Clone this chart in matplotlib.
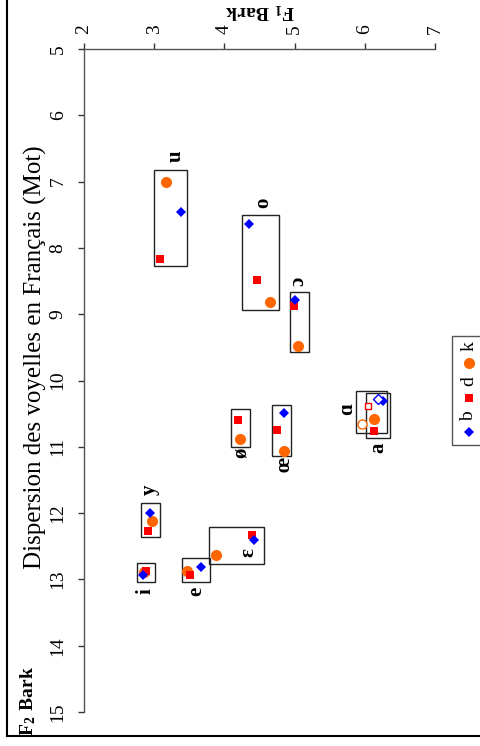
import matplotlib
matplotlib.use("Agg")
import matplotlib.pyplot as plt
from matplotlib.patches import Rectangle
from matplotlib.lines import Line2D
import numpy as np

plt.rcParams['font.family'] = ['Liberation Serif', 'DejaVu Serif']
plt.rcParams['mathtext.fontset'] = 'custom'
plt.rcParams['mathtext.rm'] = 'Liberation Serif'
plt.rcParams['mathtext.bf'] = 'Liberation Serif:bold'

title = "Dispersion des voyelles en Français (Mot)"
speakers = ["b", "d", "k"]
vowels = ["i", "y", "e", "ɛ", "ø", "œ", "a", "ɑ", "ɔ", "o", "u"]
open_vowels = ["ɑ"]

b_F1 = [2.84, 2.94, 3.67, 4.42, np.nan, 4.85, 6.26, 6.19, 5.01, 4.35, 3.38]
b_F2 = [12.93, 12.00, 12.81, 12.41, np.nan, 10.49, 10.31, 10.28, 8.79, 7.64, 7.46]
d_F1 = [2.88, 2.91, 3.51, 4.39, 4.19, 4.75, 6.13, 6.05, 4.99, 4.46, 3.08]
d_F2 = [12.87, 12.27, 12.93, 12.33, 10.60, 10.75, 10.76, 10.38, 8.88, 8.48, 8.17]
k_F1 = [2.85, 2.97, 3.47, 3.88, 4.22, 4.85, 6.13, 5.96, 5.05, 4.65, 3.17]
k_F2 = [12.89, 12.12, 12.87, 12.63, 10.88, 11.06, 10.58, 10.66, 9.48, 8.82, 7.00]

# group boxes (F1 min, F1 max, F2 min, F2 max)
box_F1_lo = [2.75, 2.81, 3.40, 3.78, 4.09, 4.68, 6.02, 5.87, 4.93, 4.25, 3.00]
box_F1_hi = [3.01, 3.08, 3.79, 4.56, 4.36, 4.95, 6.36, 6.32, 5.21, 4.78, 3.47]
box_F2_lo = [12.75, 11.85, 12.68, 12.21, 10.43, 10.37, 10.19, 10.16, 8.67, 7.50, 6.82]
box_F2_hi = [13.04, 12.36, 13.04, 12.77, 11.00, 11.14, 10.87, 10.79, 9.57, 8.94, 8.27]

# vowel label anchors (F1, F2)
lab_F1 = [2.87, 2.94, 3.60, 4.34, 4.24, 4.85, 6.19, 5.75, 5.05, 4.55, 3.31]
lab_F2 = [13.18, 11.65, 13.18, 12.60, 11.09, 11.27, 11.02, 10.43, 8.51, 7.32, 6.61]

F1_ticks = [2, 3, 4, 5, 6, 7]
F2_ticks = [5, 6, 7, 8, 9, 10, 11, 12, 13, 14, 15]

W, H = 480, 746
fig = plt.figure(figsize=(W / 100, H / 100), dpi=100)
ax = fig.add_axes([84 / W, 1 - 712 / H, (435 - 84) / W, (712 - 49) / H])
ax.set_xlim(2, 7)
ax.set_ylim(15, 5)
ax.set_xticks(F1_ticks)
ax.set_yticks(F2_ticks)
ax.xaxis.tick_top()
for s in ["bottom", "right"]:
    ax.spines[s].set_visible(False)
for s in ["top", "left"]:
    ax.spines[s].set_color("#555555")
    ax.spines[s].set_linewidth(1.0)
ax.tick_params(axis="both", direction="out", length=4.5, width=1.0, color="#333333",
               labelsize=14)
ax.tick_params(axis="x", pad=6)
ax.tick_params(axis="y", pad=8)
for t in ax.get_xticklabels():
    t.set_rotation(90)
    t.set_va("bottom")
    t.set_ha("center")
for t in ax.get_yticklabels():
    t.set_rotation(90)
    t.set_va("center")
    t.set_ha("right")
ax.patch.set_alpha(0)

colors = {"b": "#0000ff", "d": "#ff0000", "k": "#ff6600"}
markers = {"b": "D", "d": "s", "k": "o"}
msizes = {"b": 5.5, "d": 6, "k": 8}
open_sizes = {"b": 5, "d": 5, "k": 6.5}
series = {"b": (b_F1, b_F2), "d": (d_F1, d_F2), "k": (k_F1, k_F2)}

for i, v in enumerate(vowels):
    ax.add_patch(Rectangle((box_F1_lo[i], box_F2_lo[i]),
                           box_F1_hi[i] - box_F1_lo[i], box_F2_hi[i] - box_F2_lo[i],
                           fill=False, edgecolor="#222222", linewidth=1.0, zorder=2))
    ax.text(lab_F1[i], lab_F2[i], v, rotation=90, ha="center", va="center",
            fontsize=15, fontweight="bold", zorder=4)

for sp in ["k", "d", "b"]:
    F1, F2 = series[sp]
    for i, v in enumerate(vowels):
        if np.isnan(F1[i]):
            continue
        filled = v not in open_vowels
        ax.plot(F1[i], F2[i], marker=markers[sp], linestyle="none",
                markersize=msizes[sp] if filled else open_sizes[sp],
                markerfacecolor=colors[sp] if filled else "white",
                markeredgecolor=colors[sp], markeredgewidth=0 if filled else 1.0,
                zorder=3)


def P(x, y):
    return (x / W, 1 - y / H)


# title (rotated)
fig.text(*P(35, 357), title, rotation=90, ha="center", va="center", fontsize=18)
# axis labels
fig.text(*P(260, 11), r"$\mathbf{F_1\ Bark}$", rotation=180, ha="center", va="center",
         fontsize=14)
fig.text(*P(28, 701), r"$\mathbf{F_2\ Bark}$", rotation=90, ha="center", va="center",
         fontsize=14)

# legend (manually rotated)
fig.add_artist(Rectangle(P(452, 445), (500 - 452) / W, (445 - 336) / H,
                         transform=fig.transFigure, fill=False,
                         edgecolor="#555555", linewidth=1.0))
leg_mark_y = {"b": 432, "d": 398, "k": 363}
leg_text_y = {"b": 416, "d": 381, "k": 346}
for sp in speakers:
    fig.add_artist(Line2D([469 / W], [1 - leg_mark_y[sp] / H], transform=fig.transFigure,
                          marker=markers[sp], markersize=msizes[sp],
                          markerfacecolor=colors[sp], markeredgewidth=0,
                          linestyle="none"))
    fig.text(*P(469, leg_text_y[sp]), sp, rotation=90, ha="center", va="center",
             fontsize=14)

# outer frame
fig.add_artist(Line2D([7 / W, 7 / W], [1.01, 1 - 736 / H], transform=fig.transFigure,
                      color="black", linewidth=1.5))
fig.add_artist(Line2D([7 / W, 1.01], [1 - 736 / H, 1 - 736 / H], transform=fig.transFigure,
                      color="black", linewidth=1.5))

fig.savefig("out.png", dpi=100)
